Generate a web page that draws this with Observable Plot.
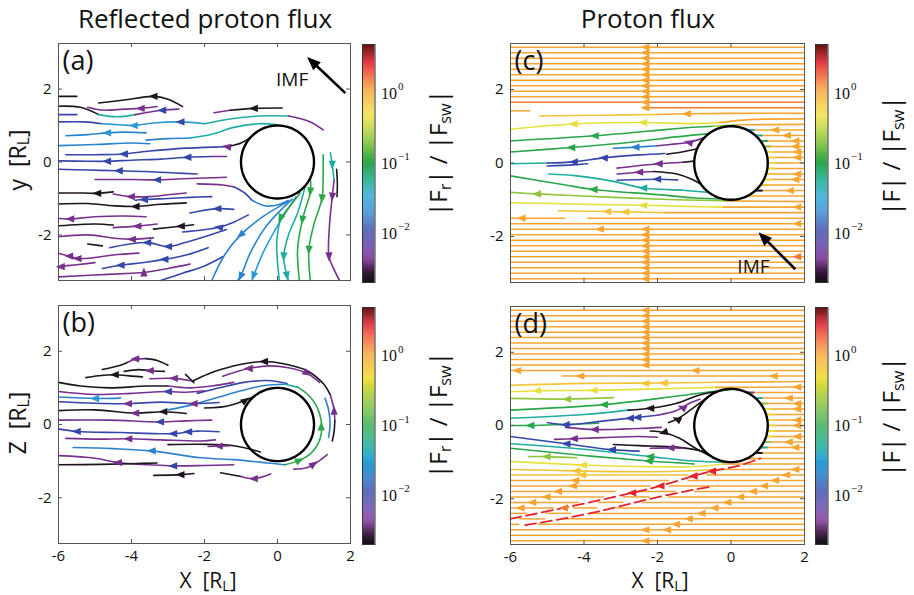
<!DOCTYPE html>
<html><head><meta charset="utf-8">
<script src="https://cdn.jsdelivr.net/npm/d3@7"></script>
<script src="https://cdn.jsdelivr.net/npm/@observablehq/plot@0.6"></script>
<style>
 body{margin:0;background:#fff;}
 #fig{position:relative;width:914px;height:595px;overflow:hidden;font-family:"Open Sans",Lato,sans-serif;color:#111;}
 .abs{position:absolute;white-space:nowrap;line-height:1;}
 .title{font-size:26px;transform:translateX(-50%);}
 .lab{font-size:21px;}
 .ylab{font-size:23px;}
 .cblab{font-size:24px;}
 .rot{transform:translate(-50%,-50%) rotate(-90deg);}
 .ctr{transform:translate(-50%,-50%);}
 sub{font-size:0.68em;vertical-align:-0.22em;line-height:0;}
</style></head><body><div id="fig"></div><script>
// flux levels |F| / |F_sw| used for the streamline colours
const K = 0.0022, P = 0.0042, B = 0.011, L = 0.02, C = 0.028, T = 0.05, G = 0.1,
      YG = 0.22, Y = 0.45, YO = 0.7, O = 1.05, OR = 1.4, R = 2.6;

// colour map of the colour bars (log flux -> colour)
const fluxStops  = [0.002, 0.00295, 0.00437, 0.00698, 0.0112, 0.0209, 0.0334, 0.0535, 0.1, 0.219, 0.479, 1.05, 1.96, 2.68, 5];
const fluxColors = ["#141414", "#3a1440", "#7e3396", "#5b3fa8", "#3447a8", "#2d86d0", "#2aa6d6", "#1eae98", "#2ba64a", "#8fc63e", "#efe23c", "#f7a432", "#ee4a2a", "#e3202a", "#5a0e10"];
const fluxDomain = [0.002, 5];
const cbTicks = [[1, "0"], [0.1, "\u22121"], [0.01, "\u22122"]];

const xTicks = [-6, -4, -2, 0, 2];
const yTicks = [-2, 0, 2];
const xDomain = [-6, 2], yDomain = [-3.25, 3.25];
const columnX = -2.33;

// (a) reflected proton flux, x-y plane: [flux, [x0,y0, x1,y1, ...]]
const aLines = [
 [K, [-6,1.8, -5.5,1.8]],
 [K, [-4.9,1.62, -4.2,1.7, -3.4,1.8, -3.0,1.72, -2.6,1.52]],
 [K, [-6,1.53, -5.4,1.5, -4.9,1.3]],
 [T, [-4.9,1.3, -4.4,1.24, -3.9,1.3]],
 [P, [-3.9,1.3, -3.16,1.42, -2.7,1.45]],
 [P, [-5.2,1.5, -4.8,1.42, -4.2,1.45, -3.75,1.47, -3.3,1.52]],
 [B, [-6,1.3, -5.5,1.3]],
 [B, [-6,1.1, -5.3,1.1, -4.8,1.05]],
 [C, [-4.8,1.05, -4.3,1.02, -3.94,1.0, -3.4,1.07, -2.66,1.1, -2.0,1.05]],
 [T, [-2.0,1.05, -1.3,1.18, -0.5,1.26, 0.3,1.26]],
 [P, [0.3,1.26, 0.9,1.1, 1.25,0.88]],
 [L, [-5.8,0.72, -5.2,0.75, -4.67,0.8, -4.2,0.82, -3.6,0.8]],
 [L, [-3.6,0.6, -3.0,0.64, -2.4,0.66]],
 [T, [-2.4,0.66, -1.8,0.76, -1.2,0.95, -0.5,1.05, 0,1.02]],
 [P, [-1.74,1.35, -1.3,1.42]],
 [K, [-1.3,1.42, -0.65,1.47, 0.13,1.48]],
 [L, [-6,0.45, -5.0,0.48, -4.0,0.52, -3.5,0.5]],
 [B, [-5.8,0.2, -5.0,0.2, -4.21,0.22, -3.5,0.3, -2.8,0.36, -2.0,0.4, -1.38,0.42]],
 [K, [-1.38,0.42, -1.0,0.52, -0.75,0.67, -0.55,0.84]],
 [B, [-6,0.03, -5.2,0.02, -4.67,0.02, -4.0,0.05, -3.2,0.08, -2.47,0.13, -1.8,0.15]],
 [P, [-1.8,0.15, -1.4,0.15]],
 [B, [-6,-0.2, -5.2,-0.22, -4.35,-0.24, -3.6,-0.26, -2.8,-0.3, -2.2,-0.33]],
 [P, [-5.0,-0.48, -4.0,-0.48, -3.3,-0.49, -2.6,-0.46, -2.0,-0.44, -1.4,-0.42]],
 [P, [-2.2,-0.6, -1.5,-0.63, -1.2,-0.68]],
 [B, [-1.2,-0.68, -0.9,-0.85, -0.7,-1.05]],
 [L, [-0.7,-1.05, -0.35,-1.2, 0,-1.18, 0.3,-1.05]],
 [K, [-6,-0.85, -5.3,-0.85, -4.94,-0.86, -4.5,-0.82]],
 [P, [-4.5,-0.88, -4.02,-0.95, -3.5,-0.95, -3.0,-0.9, -2.5,-0.85]],
 [B, [-3.9,-1.05, -3.66,-1.03, -3.0,-1.0, -2.4,-0.97, -1.8,-0.95]],
 [K, [-6,-1.15, -5.2,-1.14, -4.5,-1.2, -3.89,-1.22, -3.2,-1.16, -2.5,-1.12]],
 [B, [-2.4,-1.4, -1.65,-1.28, -1.2,-1.3]],
 [P, [-6,-1.55, -5.68,-1.56, -5.0,-1.5, -4.2,-1.48, -3.6,-1.5]],
 [K, [-6,-1.75, -5.0,-1.7, -4.5,-1.73]],
 [P, [-4.5,-1.8, -3.84,-1.76, -3.3,-1.7]],
 [K, [-3.4,-1.84, -2.65,-1.76, -2.3,-1.72]],
 [B, [-2.6,-1.92, -1.6,-1.79, -1.2,-1.65, -0.8,-1.45]],
 [P, [-6,-2.05, -5.2,-2.0, -4.4,-2.1, -3.99,-2.12, -3.4,-2.08]],
 [B, [-4.6,-2.35, -3.57,-2.21, -3.0,-2.32, -2.5,-2.2, -2.0,-2.05, -1.4,-1.85]],
 [K, [-5.2,-2.25, -4.8,-2.3]],
 [P, [-6,-2.5, -5.71,-2.58, -5.48,-2.65, -5.0,-2.62, -4.5,-2.55, -3.8,-2.5]],
 [P, [-6,-2.9, -5.94,-2.87, -5.5,-2.82, -5.0,-2.76]],
 [B, [-4.8,-2.92, -4.3,-2.83, -3.6,-2.75, -3.1,-2.67, -2.5,-2.55, -1.9,-2.35]],
 [P, [-6,-3.15, -5.0,-3.1, -4.0,-3.05, -3.66,-3.03, -3.0,-2.92, -2.4,-2.8]],
 [B, [-3.2,-3.25, -2.6,-3.05, -2.0,-2.85, -1.5,-2.6]],
 [L, [0.3,-1.08, -0.4,-1.5, -1.01,-2.0, -1.45,-2.55, -1.8,-3.25]],
 [L, [0.4,-1.02, -0.3,-1.75, -0.75,-2.5, -1.01,-3.14, -1.1,-3.25]],
 [C, [0.5,-0.96, 0.0,-1.75, -0.4,-2.5, -0.7,-3.25]],
 [G, [0.62,-0.85, 0.35,-1.2, 0.08,-1.54]],
 [T, [0.08,-1.54, -0.02,-2.2, 0.05,-3.25]],
 [T, [0.75,-0.7, 0.55,-1.4, 0.3,-2.0, 0.17,-2.59, 0.26,-3.12, 0.3,-3.25]],
 [G, [0.9,-0.45, 0.9,-0.81, 0.68,-1.59, 0.55,-2.4, 0.6,-3.25]],
 [G, [1.25,0.2, 1.25,-0.4, 1.22,-1.0, 1.0,-1.7, 0.86,-2.41, 0.9,-3.25]],
 [T, [1.45,0.25, 1.5,-0.08, 1.55,-0.5]],
 [P, [1.55,-0.5, 1.5,-0.95, 1.42,-1.8, 1.41,-2.59, 1.55,-2.95, 1.7,-3.25]],
 [K, [1.62,-0.2, 1.64,-0.6, 1.63,-0.95]]
];
// arrowheads: [x, y, direction in degrees clockwise from +x on screen, flux]
const aArrows = [
 [-3.4,1.8,180,K],[-3.75,1.47,180,P],[-3.16,1.42,180,B],[-4.67,0.8,180,C],[-3.94,1.0,180,C],[-2.66,1.1,180,B],[-0.65,1.47,180,K],[-1.38,0.42,190,P],
 [-4.21,0.22,180,B],[-4.67,0.02,180,B],[-2.47,0.13,180,B],[-4.35,-0.24,180,B],[-3.3,-0.49,180,B],
 [-4.94,-0.86,180,K],[-4.02,-0.95,180,P],[-3.66,-1.03,180,B],[-3.89,-1.22,180,K],[-1.65,-1.28,180,B],
 [-5.68,-1.56,180,P],[-3.84,-1.76,180,P],[-2.65,-1.76,180,K],[-1.6,-1.79,190,B],
 [-3.99,-2.12,180,P],[-3.57,-2.21,180,B],[-3.0,-2.32,180,B],[-1.01,-2.0,140,L],
 [-5.71,-2.58,180,P],[-5.48,-2.65,180,P],[-5.94,-2.87,180,P],[-4.3,-2.83,180,B],[-3.1,-2.67,180,B],[-3.66,-3.03,-90,P],
 [0.08,-1.54,115,G],[0.17,-2.59,95,T],[0.26,-3.12,80,T],[0.9,-0.81,95,G],[0.68,-1.59,100,G],[1.22,-1.0,95,G],[0.86,-2.41,95,G],
 [1.5,-0.08,90,T],[1.5,-0.95,95,P],[1.41,-2.59,90,P],[-1.01,-3.14,115,L],[-0.66,-3.12,110,C]
];

// (b) reflected proton flux, x-z plane
const bLines = [
 [K, [-5.25,1.28, -4.9,1.33, -4.46,1.36, -4.0,1.32, -3.7,1.3]],
 [K, [-4.8,1.5, -4.3,1.62, -4.1,1.7]], [P, [-4.1,1.7, -3.9,1.78, -3.6,1.8]], [K, [-3.6,1.8, -3.3,1.75, -3.0,1.62]],
 [K, [-4.2,1.45, -3.8,1.5, -3.5,1.47, -3.1,1.45]],
 [P, [-3.5,1.25, -2.84,1.26, -2.3,1.18]],
 [K, [-2.52,1.37, -2.29,1.14]],
 [K, [-2.3,1.2, -1.9,1.38, -1.56,1.5, -0.92,1.66, -0.37,1.72, 0.17,1.66, 0.81,1.47, 1.27,1.1, 1.45,0.8]],
 [P, [1.45,0.8, 1.55,0.4, 1.57,0.1]],
 [K, [1.57,0.1, 1.55,-0.2, 1.5,-0.45]],
 [P, [-1.5,1.32, -0.79,1.53, -0.2,1.6, 0.3,1.55, 0.81,1.4, 1.15,1.15]],
 [L, [1.3,0.72, 1.4,0.4, 1.44,0.0, 1.4,-0.35]],
 [B, [-2.2,0.85, -1.56,1.01, -0.92,1.15, -0.28,1.2, 0.26,1.12]],
 [L, [-3.0,0.4, -2.3,0.55, -1.6,0.75, -1.0,0.92, -0.4,1.06, 0.2,1.1]],
 [T, [0.2,1.1, 0.55,1.02]],
 [G, [0.55,1.02, 0.85,0.8, 1.07,0.5, 1.2,0.1, 1.2,-0.25, 1.1,-0.55, 0.9,-0.8, 0.6,-0.98, 0.2,-1.1]],
 [L, [-5.6,-0.63, -4.5,-0.66, -3.45,-0.72, -2.1,-0.91, -1.2,-0.96, -0.28,-1.05, 0.2,-1.1]],
 [P, [0.45,-1.22, 0.8,-1.18, 1.1,-1.02, 1.36,-0.82]],
 [K, [-3.39,-1.39, -2.66,-1.37, -2.29,-1.34]],
 [K, [-1.56,-1.32, -1.0,-1.42]], [P, [-1.0,-1.42, -0.65,-1.48, -0.19,-1.35]],
 [K, [-2.0,0.45, -1.4,0.5, -0.88,0.66, -0.62,0.78]],
 [K, [-3.0,-0.55, -2.11,-0.54, -1.2,-0.58, -0.47,-0.75]],
 [P, [-1.9,-0.6, -1.61,-0.59, -1.3,-0.58]],
 [K, [-6,1.15, -5.4,1.05, -4.6,1.0, -3.6,1.05, -3.0,1.05]], [P, [-3.0,1.05, -2.4,1.0, -1.8,1.05, -1.2,1.15]],
 [P, [-6,0.9, -5.0,0.82, -4.0,0.85, -3.0,0.9, -2.5,0.88, -2.0,0.92]],
 [L, [-6,0.75, -5.0,0.71, -4.3,0.72]],
 [B, [-6,0.62, -5.0,0.58, -4.1,0.57, -3.2,0.61, -2.3,0.57, -1.6,0.6]],
 [K, [-6,0.38, -5.0,0.4, -3.9,0.31, -3.13,0.35, -2.5,0.3]],
 [P, [-6,0.12, -4.6,0.12, -3.22,0.07, -2.5,0.1, -1.8,0.12]],
 [B, [-6,-0.12, -5.5,-0.19, -4.3,-0.22, -2.86,-0.25, -2.2,-0.18, -1.6,-0.2]],
 [P, [-5.8,-0.38, -4.9,-0.4, -4.09,-0.39, -3.2,-0.42, -2.1,-0.45, -1.7,-0.42]],
 [P, [-6,-0.85, -5.0,-0.92, -4.37,-1.04, -3.5,-1.1, -2.86,-1.13, -2.0,-1.12, -1.2,-1.1]],
 [K, [-6,-1.1, -4.85,-1.09, -4.0,-1.07, -3.3,-1.05]]
];
const bArrows = [
 [-3.9,1.79,180,P],[-4.46,1.36,180,K],[-3.5,1.47,180,P],[-2.84,1.26,180,P],[-0.37,1.72,180,K],[-0.79,1.53,180,P],[0.81,1.4,30,P],[1.55,0.38,-90,P],[1.2,-0.05,-90,G],[0.6,-0.98,-25,G],[0.99,-1.08,-35,P],[-0.65,-1.48,180,P],[-2.66,-1.37,180,K],[-0.88,0.66,-35,K],
 [-5.0,0.71,180,C],[-4.1,0.57,180,P],[-2.3,0.57,180,P],[-3.0,0.9,180,B],[-3.9,0.31,180,P],[-3.13,0.35,180,K],[-3.22,0.07,180,B],[-5.5,-0.19,180,B],[-2.86,-0.25,180,B],[-2.45,-0.2,180,B],[-4.09,-0.39,180,P],[-3.45,-0.72,180,L],[-4.37,-1.04,180,P],[-2.86,-1.13,180,B],[-1.61,-0.59,180,P]
];

// (c) proton flux, x-y plane; straight flow lines: [y, x0 (null = body surface), x1, flux]
const cRows = [
 [3.15,-6,2,O],[3.0,-6,2,O],[2.85,-6,2,O],[2.7,-6,2,O],[2.55,-6,2,O],[2.4,-6,2,O],[2.25,-6,2,O],[2.1,-6,2,O],[1.95,-6,2,O],[1.8,-6,2,O],[1.65,-6,2,OR],
 [1.5,-2.33,2,OR],[1.42,-6,-5.45,O],
 [0.9,null,2,O],[0.75,null,2,O],[0.6,null,2,O],[0.45,null,2,O],[0.3,null,2,O],[0.15,null,2,O],[0,null,2,O],[-0.15,null,2,O],[-0.3,null,2,O],[-0.45,null,2,O],[-0.6,null,2,O],[-0.75,null,2,O],[-0.9,null,2,O],
 [-1.5,-6,-4.5,O],[-1.5,-3.9,2,O],
 [-1.65,-6,2,O],[-1.8,-6,2,O],[-1.95,-6,2,O],[-2.1,-6,2,O],[-2.25,-6,2,O],[-2.4,-6,2,O],[-2.55,-6,2,O],[-2.7,-6,2,O],[-2.85,-6,2,O],[-3.0,-6,2,O],[-3.15,-6,2,O]
];
const cColumn = [3.15,3.0,2.85,2.7,2.55,2.4,2.25,2.1,1.95,1.8,1.65,1.5,-1.8,-1.95,-2.1,-2.25,-2.4,-2.55,-2.7,-2.85,-3.0,-3.15];
const cLines = [
 [YO, [-5.2,1.28, -3.5,1.3, -2.0,1.32]], [O, [-2.0,1.32, -1.2,1.34, 0,1.35, 2,1.35]],
 [Y, [-6,0.92, -4.28,1.06, -2.39,1.1, -1.0,1.07, -0.3,1.1]], [O, [-0.3,1.1, 0.5,1.18, 2,1.2]],
 [G, [-6,0.6, -3.71,0.74, -2.2,0.87, -1.2,0.96, -0.5,1.0]], [YG, [-0.5,1.0, 0.2,1.04]], [O, [0.2,1.04, 2,1.05]],
 [G, [-6,0.3, -4.35,0.42, -2.6,0.58, -1.5,0.71, -0.6,0.8]],
 [L, [-3.2,0.4, -2.6,0.43, -2.0,0.47]], [P, [-2.0,0.47, -1.5,0.52, -1.15,0.56, -0.72,0.69]],
 [K, [-1.75,0.24, -1.34,0.3, -0.95,0.38]],
 [T, [-6,-0.02, -5.0,0.0]], [B, [-5.0,0.0, -4.28,0.03, -3.46,0.14, -2.5,0.22, -1.8,0.26]],
 [B, [-5.0,-0.08, -4.3,-0.05, -3.9,-0.02]],
 [P, [-3.1,-0.14, -2.6,-0.08, -1.97,-0.02, -1.3,0.02]], [K, [-1.3,0.02, -1.0,0.05]],
 [P, [-3.1,-0.3, -2.5,-0.25, -2.1,-0.23]], [K, [-2.1,-0.23, -1.47,-0.3, -1.05,-0.45, -0.85,-0.56]],
 [B, [-3.1,-0.47, -2.01,-0.44, -1.45,-0.46]],
 [T, [-4.96,-0.3, -4.2,-0.35, -3.2,-0.5, -2.39,-0.68, -1.3,-0.74, -0.6,-0.8]],
 [G, [-6,-0.35, -4.5,-0.6, -3.74,-0.72, -2.0,-0.86, -1.0,-0.95, -0.3,-0.98]],
 [YG, [-6,-0.8, -5.28,-0.84, -3.5,-0.92, -1.5,-1.0, -0.1,-1.03]], [O, [-0.1,-1.03, 2,-1.05]],
 [Y, [-6,-1.08, -4,-1.12, -2.39,-1.15, -1.2,-1.18, -0.2,-1.2]], [O, [-0.2,-1.2, 2,-1.2]],
 [YO, [-4.7,-1.3, -3.37,-1.32, -2.88,-1.33, -1.8,-1.35]], [O, [-1.8,-1.35, 2,-1.35]]
];
// flux just above the dayside surface: [y, flux]
const cTips = [[0.9,C],[0.75,T],[0.6,G],[0.45,YG],[0.3,Y],[0.15,Y],[0,Y],[-0.15,Y],[-0.3,YO],[-0.45,Y],[-0.6,YO],[-0.75,K],[-0.9,YO]];
const cArrows = [
 [-1.2,1.34,180,O],[-4.28,1.06,180,Y],[-2.39,1.1,180,Y],[-3.71,0.74,180,G],[-4.35,0.42,180,G],[-2.6,0.43,180,L],[-1.15,0.56,195,P],[-4.28,0.03,180,B],[-3.46,0.14,185,B],[-1.97,-0.02,180,P],[-2.5,-0.25,180,P],[-2.01,-0.44,180,B],[-2.39,-0.68,180,T],[-3.74,-0.72,180,G],[-5.28,-0.84,180,YG],[-2.39,-1.15,180,Y],[-3.37,-1.32,180,YO],[-2.88,-1.33,180,YO],[-5.7,-1.5,180,O],[-3.57,-1.8,180,O],
 [1.2,0.9,180,O],[1.52,0.75,180,O],[1.75,0.6,180,O],[1.75,0.45,180,O],[1.8,0.3,180,O],[1.8,0.15,180,O],[1.8,-0.3,180,O],[1.75,-0.45,180,O],[1.6,-0.75,180,O],[1.8,-1.2,180,O],[1.8,-1.65,180,O],[1.8,-2.55,180,OR]
];

// (d) proton flux, x-z plane
const dRows = [
 [3.15,-6,2,O],[3.0,-6,2,O],[2.85,-6,2,O],[2.7,-6,2,O],[2.55,-6,2,O],[2.4,-6,2,O],[2.25,-6,2,O],[2.1,-6,2,O],[1.95,-6,2,O],[1.8,-6,2,O],[1.65,-6,2,O],
 [1.5,-6,2,O],[1.35,-4.6,2,O],
 [0.9,null,2,O],[0.75,null,2,O],[0.6,null,2,O],[0.45,null,2,O],[0.3,null,2,O],[0.15,null,2,O],[0,null,2,O],[-0.15,null,2,O],[-0.3,null,2,O],[-0.45,null,2,O],[-0.6,null,2,O],[-0.75,null,2,O],[-0.9,null,2,O],
 [-1.35,-6,-1.16,YO],[-1.35,-0.66,2,O],
 [-1.5,-6,-1.67,O],[-1.5,-1.17,2,O],
 [-1.65,-6,-2.17,O],[-1.65,-1.67,2,O],
 [-1.8,-6,-3.12,O],[-1.8,-2.62,-1.49,O],[-1.8,-0.99,2,O],
 [-1.95,-6,-3.44,O],[-1.95,-2.94,-2.2,O],[-1.95,-1.7,2,O],
 [-2.1,-6,-4.12,O],[-2.1,-3.62,-2.91,O],[-2.1,-2.41,2,O],
 [-2.25,-6,-4.8,O],[-2.25,-4.3,-3.61,O],[-2.25,-3.11,2,O],
 [-2.4,-6,-5.53,O],[-2.4,-5.03,-4.33,O],[-2.4,-3.83,2,O],
 [-2.55,-5.75,-5.04,O],[-2.55,-4.54,2,O],
 [-2.7,-6,-5.75,O],[-2.7,-5.25,2,O],
 [-2.85,-6,2,O],[-3.0,-6,2,O],[-3.15,-6,2,O]
];
const dColumn = [3.15,3.0,2.85,2.7,2.55,2.4,2.25,2.1,1.95,1.8,1.65];
const dLines = [
 [YO, [-6,1.1, -4,1.15, -1.83,1.16, -0.3,1.18]], [O, [-0.3,1.18, 2,1.2]],
 [Y, [-6,0.92, -5.28,0.95, -3.74,0.96, -2,1.0, -0.4,1.04]], [O, [-0.4,1.04, 2,1.05]],
 [YG, [-6,0.74, -4.46,0.72, -3.2,0.76]],
 [G, [-6,0.42, -3.46,0.57, -1.5,0.8, -0.5,0.93, 0,0.98]],
 [T, [-6,0.2, -4,0.3, -2.8,0.42]], [K, [-2.8,0.42, -2.2,0.47, -1.5,0.6, -0.9,0.82, -0.4,0.93]],
 [G, [-6,0.0, -5.46,0.0, -4.5,0.03, -3.6,0.06]],
 [B, [-5.0,0.08, -4.5,0.02, -3.5,0.12, -2.75,0.2, -2.0,0.28]], [P, [-2.0,0.28, -1.5,0.4, -1.33,0.49, -1.1,0.62, -0.85,0.72]],
 [K, [-0.5,0.87, -0.8,0.65, -1.2,0.35, -1.47,0.17, -1.7,0.08]],
 [P, [-4.5,-0.05, -3.71,-0.11, -2.5,-0.08, -1.9,-0.05]],
 [P, [-4.8,-0.38, -4.28,-0.36, -3.5,-0.33, -2.5,-0.3, -2.0,-0.32]],
 [K, [-0.55,-0.84, -1.0,-0.6, -1.4,-0.35, -1.83,-0.19, -2.2,-0.15]],
 [B, [-6,-0.3, -4.48,-0.5, -3.24,-0.66, -2.5,-0.7]],
 [K, [-3.2,-0.52, -2.5,-0.55, -1.47,-0.59, -0.8,-0.7, -0.5,-0.86]],
 [P, [-2.2,-0.62, -1.65,-0.61, -1.3,-0.62]],
 [T, [-6,-0.5, -4,-0.65, -2.2,-0.85, -1.0,-0.97, -0.2,-1.0]],
 [G, [-6,-0.62, -4.0,-0.82, -2.24,-0.97, -1.0,-1.05]],
 [YG, [-5.5,-0.85, -5.02,-0.85, -4.2,-0.88]],
 [Y, [-6,-0.98, -4.03,-1.08, -2.5,-1.12, -1.0,-1.12, -0.2,-1.05]], [O, [-0.2,-1.05, 2,-1.05]],
 [YO, [-6,-1.2, -4.21,-1.24, -3.0,-1.26, -1.5,-1.25, -0.5,-1.2]], [O, [-0.5,-1.2, 2,-1.2]]
];
// dashed high-flux lines below the body
const dRed = [
 [R, [-6,-2.55, -4.55,-2.25, -2.69,-1.84, -1.92,-1.65, -1.02,-1.38, -0.52,-1.25, 0.2,-1.1, 0.8,-0.9]],
 [R, [-5.6,-2.72, -4.6,-2.55, -3.4,-2.3, -2.4,-2.05, -1.0,-1.75, -0.6,-1.68]]
];
const dTips = [[0.9,P],[0.75,T],[0.6,YG],[0.45,Y],[0.3,Y],[0.15,Y],[0,Y],[-0.15,Y],[-0.3,Y],[-0.45,YG],[-0.6,T],[-0.75,K],[-0.9,O]];
const dArrows = [
 [-5.82,1.5,180,O],[-0.97,1.5,180,O],[-4.1,1.35,180,O],[1.16,1.35,180,O],[-2.33,1.15,180,YO],[-1.83,1.16,180,YO],[-5.28,0.95,180,Y],[-3.74,0.96,180,Y],[-4.46,0.72,180,YG],[-3.46,0.57,180,G],[-2.2,0.47,180,K],[-5.46,0.0,180,G],[-4.5,0.02,180,B],[-2.75,0.2,180,B],[-2.55,0.22,180,B],[-1.33,0.49,205,P],[-1.47,0.17,205,K],[-1.83,-0.19,165,K],[-3.71,-0.11,180,P],[-4.28,-0.36,180,P],[-4.48,-0.5,180,B],[-3.24,-0.66,180,B],[-1.65,-0.61,180,P],[-2.2,-0.85,180,G],[-2.24,-0.97,180,G],[-5.02,-0.85,180,YG],[-4.03,-1.08,180,Y],
 [-4.55,-2.25,180,OR],[-2.69,-1.84,180,R],[-1.92,-1.65,180,R],[-1.02,-1.38,180,R],[-0.52,-1.25,180,R],
 [-5.73,-2.25,180,O],[-5.41,-2.1,180,O],[-5.02,-1.95,180,O],[-4.71,-1.8,180,O],[-4.3,-1.65,180,O],[-4.24,-1.5,180,O],[-4.05,-1.35,180,YO],[-4.21,-1.24,180,YO],
 [-1.5,-2.7,180,O],[-1.15,-2.55,180,O],[-0.8,-2.4,180,O],[-0.45,-2.25,180,O],[-0.1,-2.1,180,O],[0.25,-1.95,180,O],[0.6,-1.8,180,O],[0.9,-1.65,180,O],[1.2,-1.5,180,O],[1.5,-1.35,180,O],[1.75,-1.2,180,O],
 [-2.33,-2.85,180,O],[-2.33,-3.15,180,O],[-1.74,-2.85,180,O],
 [1.8,1.05,180,O],[1.57,0.75,180,O],[1.8,0.6,180,O],[1.8,0.45,180,O],[1.8,0.15,180,O],[1.8,0.0,180,O],[1.8,-0.3,180,O],[1.57,-0.45,180,O],[1.75,-0.6,180,O]
];

// IMF direction arrows: tail (x1,y1) -> head (x2,y2), label position
const aIMF = {x1: 1.86, y1: 1.89, x2: 0.96, y2: 2.74, tx: 0.4, ty: 2.26};
const cIMF = {x1: 1.75, y1: -2.89, x2: 0.89, y2: -2.03, tx: 0.61, ty: -2.83};

// ---------------------------------------------------------------
const fig = document.getElementById("fig");
const colorScale = {type: "log", domain: fluxStops, range: fluxColors, clamp: true};
const body = d3.range(0, 361, 2).map(a => ({x: Math.cos(a * Math.PI / 180), y: Math.sin(a * Math.PI / 180)}));

const arrowHead = {
  draw(ctx, size) {
    const s = Math.sqrt(size / Math.PI);
    ctx.moveTo(1.15 * s, 0);
    ctx.lineTo(-0.95 * s, 0.85 * s);
    ctx.lineTo(-0.95 * s, -0.85 * s);
    ctx.closePath();
  }
};

function points(lines) {
  return lines.flatMap(([v, c], id) => d3.range(0, c.length, 2).map(i => ({x: c[i], y: c[i + 1], v, id})));
}
const surfaceX = y => Math.sqrt(Math.max(0, 1 - y * y));

function place(node, left, top) {
  node.style.position = "absolute";
  node.style.left = left + "px";
  node.style.top = top + "px";
  fig.appendChild(node);
}
function html(str, cls, left, top) {
  const d = document.createElement("div");
  d.className = "abs " + cls;
  d.innerHTML = str;
  d.style.left = left + "px";
  d.style.top = top + "px";
  fig.appendChild(d);
}

function panel(cfg) {
  const {lines, dashed = [], rows = [], tips = [], arrows, column = [], label, imf, xAxis, width, height, m} = cfg;
  const pxPerUnit = (height - m.top - m.bottom) / (yDomain[1] - yDomain[0]);
  const tl = 4 / pxPerUnit;
  const allArrows = arrows.concat(column.map(y => [columnX, y, 180, O]));
  const inner = [-4, -2, 0];
  const marks = [
    Plot.ruleY(rows, {y: d => d[0], x1: d => d[1] ?? surfaceX(d[0]), x2: d => d[2], stroke: d => d[3], strokeWidth: 1.5}),
    Plot.line(points(lines), {x: "x", y: "y", z: "id", stroke: "v", strokeWidth: 1.6, curve: "catmull-rom"}),
    Plot.line(points(dashed), {x: "x", y: "y", z: "id", stroke: "v", strokeWidth: 1.8, strokeDasharray: "11,5", curve: "catmull-rom"}),
    Plot.link(tips, {x1: d => surfaceX(d[0]), x2: d => surfaceX(d[0]) + 0.2, y1: d => d[0], y2: d => d[0], stroke: d => d[1], strokeWidth: 2}),
    Plot.line(body, {x: "x", y: "y", stroke: "#000", strokeWidth: 2.4}),
    Plot.dot(allArrows, {x: d => d[0], y: d => d[1], rotate: d => d[2], fill: d => d[3], symbol: arrowHead, r: 4.3}),
    Plot.ruleX(inner, {y1: yDomain[1], y2: yDomain[1] - tl, stroke: "#555"}),
    Plot.ruleX(inner, {y1: yDomain[0], y2: yDomain[0] + tl, stroke: "#555"}),
    Plot.ruleY(yTicks, {x1: xDomain[0], x2: xDomain[0] + tl, stroke: "#555"}),
    Plot.ruleY(yTicks, {x1: xDomain[1], x2: xDomain[1] - tl, stroke: "#555"}),
    Plot.frame({stroke: "#555"}),
    Plot.text([label], {text: d => d, frameAnchor: "top-left", textAnchor: "start", lineAnchor: "top", dx: 4, dy: 7, fontSize: 27})
  ];
  if (imf) {
    const ang = Math.atan2(-(imf.y2 - imf.y1), imf.x2 - imf.x1) * 180 / Math.PI;
    marks.push(
      Plot.link([imf], {x1: "x1", y1: "y1", x2: d => d.x2 + (d.x1 - d.x2) * 0.12, y2: d => d.y2 + (d.y1 - d.y2) * 0.12, stroke: "#000", strokeWidth: 2.6}),
      Plot.dot([imf], {x: "x2", y: "y2", rotate: ang, symbol: arrowHead, r: 6.5, fill: "#000"}),
      Plot.text([imf], {x: "tx", y: "ty", text: () => "IMF", fontSize: 19, fill: "#111"})
    );
  }
  return Plot.plot({
    width, height,
    marginTop: m.top, marginRight: m.right, marginBottom: m.bottom, marginLeft: m.left,
    style: {fontSize: "15px", fontFamily: "'Open Sans', Lato, sans-serif", background: "none", overflow: "visible", color: "#111"},
    x: {domain: xDomain, axis: xAxis ? "bottom" : null, ticks: xTicks, tickSize: 0, tickPadding: 7, tickFormat: d => String(d), label: null},
    y: {domain: yDomain, axis: "left", ticks: yTicks, tickSize: 0, tickPadding: 7, tickFormat: d => String(d), label: null},
    color: colorScale,
    marks
  });
}

function colorbar(height, top, bottom) {
  const lo = Math.log10(fluxDomain[0]), hi = Math.log10(fluxDomain[1]), n = 240;
  const bands = d3.range(n).map(i => {
    const a = lo + (hi - lo) * i / n, b = lo + (hi - lo) * (i + 1.05) / n;
    return {y1: 10 ** a, y2: 10 ** Math.min(b, hi), v: 10 ** ((a + b) / 2)};
  });
  const serif = "Liberation Serif, DejaVu Serif, serif";
  return Plot.plot({
    width: 85, height,
    marginLeft: 7, marginRight: 65.5, marginTop: top, marginBottom: bottom,
    style: {background: "none", overflow: "visible", color: "#111"},
    x: {domain: [0, 1], axis: null},
    y: {type: "log", domain: fluxDomain, axis: null},
    color: colorScale,
    marks: [
      Plot.rect(bands, {x1: 0, x2: 1, y1: "y1", y2: "y2", fill: "v"}),
      Plot.frame({stroke: "#333"}),
      Plot.text(cbTicks, {x: 1, y: d => d[0], text: () => "10", dx: 6, textAnchor: "start", fontSize: 16, fontFamily: serif}),
      Plot.text(cbTicks, {x: 1, y: d => d[0], text: d => d[1], dx: 23, dy: -7, textAnchor: "start", fontSize: 11, fontFamily: serif})
    ]
  });
}

place(panel({lines: aLines, arrows: aArrows, label: "(a)", imf: aIMF, xAxis: false, width: 360, height: 290, m: {top: 43, right: 10, bottom: 10, left: 58}}), 0, 0);
place(panel({lines: bLines, arrows: bArrows, label: "(b)", xAxis: true, width: 360, height: 305, m: {top: 15, right: 10, bottom: 52, left: 58}}), 0, 290);
place(panel({lines: cLines, rows: cRows, tips: cTips, arrows: cArrows, column: cColumn, label: "(c)", imf: cIMF, xAxis: false, width: 354, height: 292, m: {top: 43, right: 10, bottom: 10, left: 50}}), 460, 0);
place(panel({lines: dLines, dashed: dRed, rows: dRows, tips: dTips, arrows: dArrows, column: dColumn, label: "(d)", xAxis: true, width: 354, height: 305, m: {top: 16, right: 10, bottom: 51, left: 50}}), 460, 290);

place(colorbar(292, 44, 10), 355, 0);
place(colorbar(305, 17, 51), 355, 290);
place(colorbar(292, 44, 10), 808, 0);
place(colorbar(305, 17, 51), 808, 290);

html("Reflected proton flux", "title", 205, 5);
html("Proton flux", "title", 648, 5);
html("y&nbsp;&nbsp;[R<sub>L</sub>]", "ylab rot", 17, 160);
html("Z&nbsp;&nbsp;[R<sub>L</sub>]", "ylab rot", 17, 423);
html("X&nbsp;&nbsp;[R<sub>L</sub>]", "lab ctr", 208, 580);
html("X&nbsp;&nbsp;[R<sub>L</sub>]", "lab ctr", 660, 580);
html("|F<sub>r</sub>| / |F<sub>sw</sub>|", "cblab rot", 438, 153);
html("|F<sub>r</sub>| / |F<sub>sw</sub>|", "cblab rot", 438, 415);
html("|F| / |F<sub>sw</sub>|", "cblab rot", 891, 156);
html("|F| / |F<sub>sw</sub>|", "cblab rot", 891, 417);
</script></body></html>
